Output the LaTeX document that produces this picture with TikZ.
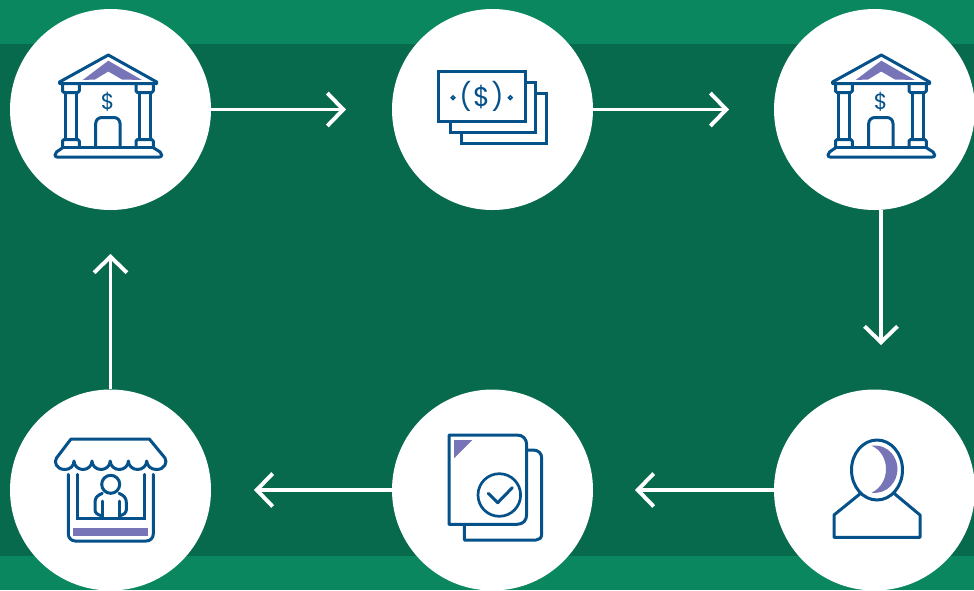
\documentclass[tikz,border=0pt]{standalone}
\usepackage{fontspec}
\setmainfont{Poppins}
\usetikzlibrary{arrows.meta}
\definecolor{bandgreen}{HTML}{0A875F}
\definecolor{darkgreen}{HTML}{076A4C}
\definecolor{iconblue}{HTML}{05518A}
\definecolor{iconpurple}{HTML}{7774B8}
\tikzset{
  disc/.style={circle,fill=white,draw=none,minimum size=201pt,inner sep=0pt},
  flow/.style={white,line width=3.9pt,-{Straight Barb[length=16pt,width=33pt,line width=3.9pt]}},
  ico/.style={iconblue,line width=3pt,line join=round,line cap=round},
  bankpic/.pic={
    \fill[iconpurple] (108.3,60.7) -- (142,80) -- (122,79.5) -- (108.3,71.5) -- (95,79.5) -- (82.7,80) -- cycle;
    \draw[ico] (108.3,55) -- (156.7,82) -- (156.7,83.7) -- (59.5,83.7) -- (59.5,82) -- cycle;
    \draw[ico] (65,92.5) -- (65,139.5) (76.7,92.5) -- (76.7,139.5);
    \draw[ico] (139,92.5) -- (139,139.5) (150.7,92.5) -- (150.7,139.5);
    \draw[ico,rounded corners=1.5pt] (62.5,84) -- (62.5,92.5) -- (79.3,92.5) -- (79.3,84);
    \draw[ico,rounded corners=1.5pt] (136,84) -- (136,92.5) -- (153.3,92.5) -- (153.3,84);
    \draw[ico,rounded corners=1.5pt] (62.5,147) -- (62.5,139.5) -- (79.3,139.5) -- (79.3,147);
    \draw[ico,rounded corners=1.5pt] (136,147) -- (136,139.5) -- (153.3,139.5) -- (153.3,147);
    \draw[ico,rounded corners=6pt] (95.7,147) -- (95.7,117.5) -- (120,117.5) -- (120,147);
    \draw[ico] (63,147.5) -- (153,147.5);
    \draw[ico,rounded corners=2pt] (63,147.5) -- (55,153) -- (55,157) -- (161.7,157) -- (161.7,153) -- (153,147.5);
    \node[text=iconblue,font=\fontsize{22}{22}\selectfont,inner sep=0pt] (dollar) at (107.7,101.5) {\$};
  }
}
\begin{document}
\begin{tikzpicture}[x=1pt,y=-1pt]
\useasboundingbox (0,0) rectangle (974,590);
\begin{scope}
\clip (0,0) rectangle (974,590);
\fill[bandgreen] (0,0) rectangle (974,590);
\fill[darkgreen] (0,44) rectangle (974,556);

\node[disc] (c1) at (110.5,109.5) {};
\node[disc] (c2) at (492.5,109.5) {};
\node[disc] (c3) at (874.5,109.5) {};
\node[disc] (c4) at (874.5,490) {};
\node[disc] (c5) at (492.5,490) {};
\node[disc] (c6) at (110.5,490) {};

\coordinate (e1) at (346,109.5);
\coordinate (e2) at (729,109.5);
\coordinate (e3) at (881,345);
\coordinate (e4) at (635,490);
\coordinate (e5) at (254,490);
\coordinate (e6) at (110.5,254);

\draw[flow] (c1.east) -- (e1);
\draw[flow] (c2.east) -- (e2);
\draw[flow] (e3 |- c3.south) -- (e3);
\draw[flow] (c4.west) -- (e4);
\draw[flow] (c5.west) -- (e5);
\draw[flow] (c6.north) -- (e6);

% banks
\pic (bankA) at (0,0) {bankpic};
\pic (bankB) at (773,0) {bankpic};

% bills
\draw[ico,line cap=butt,line join=miter] (525,82.7) -- (535.7,82.7) -- (535.7,132.3) -- (450,132.3) -- (450,121.7);
\draw[ico,line cap=butt,line join=miter] (535.7,93.3) -- (546.7,93.3) -- (546.7,143.3) -- (461,143.3) -- (461,132.3);
\draw[ico,line join=miter] (438.3,71.7) rectangle (525,121.7);
\node[text=iconblue,font=\fontsize{27}{27}\selectfont,inner sep=0pt] (money) at (481.5,96.5) {(\kern1.5pt\$\kern1.5pt)};
\draw[iconblue,line width=1.6pt] (453,97.7) circle (1.8pt);
\draw[iconblue,line width=1.6pt] (510.3,97.7) circle (1.8pt);

% document
\fill[iconpurple] (454,440) -- (472.3,440) -- (454,458.3) -- cycle;
\draw[ico] (526.7,450) -- (533,450) .. controls (538.5,450) and (541.7,453.5) .. (541.7,458) -- (541.7,534) .. controls (541.7,538) and (539,540) .. (536,540) -- (464.3,540) -- (464.3,524.3);
\draw[ico] (449,524.3) -- (449,435) -- (517,435) .. controls (523,435) and (526.7,439) .. (526.7,445) -- (526.7,514) .. controls (526.7,520.5) and (523,524.3) .. (517,524.3) -- cycle;
\draw[iconblue,line width=2.7pt] (499.3,495) circle (21.3pt);
\draw[ico] (488.3,493.3) -- (497.7,502.7) -- (512.3,487.7);

% person
\fill[iconpurple] (871.7,445.7) .. controls (889,444) and (897.5,458) .. (897.5,469) .. controls (897.5,481) and (888,494.5) .. (871.7,492.7) .. controls (881,488) and (886,479) .. (886,469) .. controls (886,459) and (881,450) .. (871.7,445.7) -- cycle;
\draw[ico] (877,470) ellipse (25.5pt and 30pt);
\draw[ico] (860.7,493.3) -- (834,515) -- (834,537.3) -- (920,537.3) -- (920,515) -- (894,493.3);

% store
\fill[iconpurple] (73.3,528.3) rectangle (148.3,535.7);
\draw[ico] (71,439) -- (149.3,439) -- (165,458)
  .. controls (167.5,462) and (165,469.5) .. (156.5,469.5)
  .. controls (151,469.5) and (147,466) .. (146.7,461)
  arc[start angle=0,end angle=-180,x radius=9.15pt,y radius=8.5pt]
  arc[start angle=0,end angle=-180,x radius=9.1pt,y radius=8.5pt]
  arc[start angle=0,end angle=-180,x radius=9.1pt,y radius=8.5pt]
  arc[start angle=0,end angle=-180,x radius=9pt,y radius=8.5pt]
  .. controls (74,466) and (70,469.5) .. (65,469.5)
  .. controls (56.5,469.5) and (53.5,462) .. (56.5,458)
  -- cycle;
\draw[ico,rounded corners=7pt] (68.3,474.3) -- (68.3,541) -- (153.3,541) -- (153.3,474.3);
\draw[ico,line join=miter] (77.7,474.3) -- (77.7,518.3) -- (144,518.3) -- (144,474.3);
\draw[ico] (110.7,484.3) circle (9pt);
\draw[ico] (102.3,493.3) .. controls (97,495.5) and (95,498) .. (95,502.3) -- (95,510) .. controls (95,513) and (98,515) .. (101.7,515.7);
\draw[ico] (119,493.3) .. controls (124,495.5) and (126.3,498) .. (126.3,502.3) -- (126.3,510) .. controls (126.3,513) and (123,515) .. (119.5,515.7);
\draw[ico] (102.3,501) -- (102.3,518.3);
\draw[ico] (119,501) -- (119,518.3);
\end{scope}
\end{tikzpicture}
\end{document}
